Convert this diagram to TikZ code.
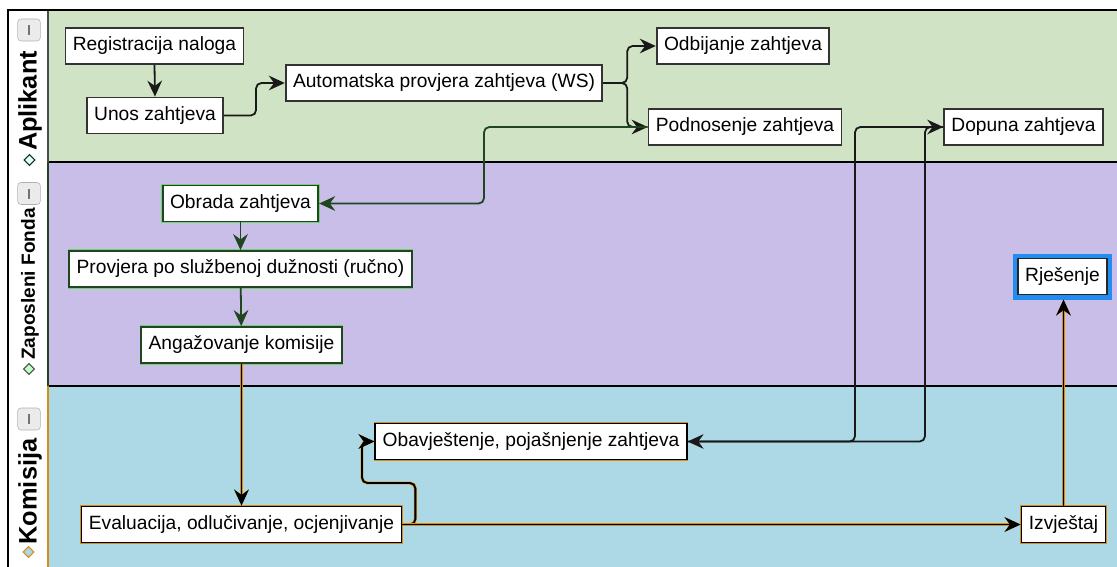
\documentclass[tikz,border=0pt]{standalone}
\usepackage{fontspec}
\setmainfont{Liberation Sans}
\usetikzlibrary{arrows.meta,shapes.geometric}
\definecolor{aplgreen}{RGB}{208,227,196}
\definecolor{fondpurple}{RGB}{200,190,232}
\definecolor{komblue}{RGB}{173,216,230}
\definecolor{fondedge}{RGB}{32,70,32}
\definecolor{fondglow}{RGB}{120,205,120}
\definecolor{komglow}{RGB}{214,140,24}
\definecolor{rjesblue}{RGB}{34,140,240}
\begin{document}
\begin{tikzpicture}[x=0.75pt,y=-0.75pt,
    every node/.style={font=\fontsize{14.4}{17}\selectfont},
    box/.style={draw,fill=white,line width=1.35pt,inner xsep=5.5pt,minimum height=27pt},
    apbox/.style={box,draw=black!80},
    fondbox/.style={box,draw=fondedge,preaction={draw=fondglow,line width=2.3pt}},
    kombox/.style={box,draw=black,preaction={draw=komglow,line width=2.3pt}},
    rjesbox/.style={box,draw=black!85,outer sep=3.75pt,preaction={draw=rjesblue,line width=7.5pt}},
    flow/.style={-{Stealth[length=12pt,width=11pt,inset=4pt]},line width=1.35pt,rounded corners=4pt},
    apline/.style={flow,draw=black!90},
    fondline/.style={flow,draw=fondedge},
    komline/.style={flow,draw=black,preaction={draw=komglow,line width=2.2pt}},
    lanename/.style={rotate=90,font=\bfseries\fontsize{19}{22}\selectfont},
    lanebtn/.style={draw=black!30,fill=black!8,rounded corners=2.5pt,minimum width=17pt,minimum height=16.5pt,inner sep=0pt},
    lanemark/.style={diamond,line width=0.8pt,minimum size=8.5pt,inner sep=0pt}]
      \clip (0,0) rectangle (1117,567);
      % lanes
      \fill[white] (0,0) rectangle (1117,567);
      \fill[aplgreen] (48,10) rectangle (1120,162);
      \fill[fondpurple] (48,162) rectangle (1120,386);
      \fill[komblue] (48,386) rectangle (1120,570);
      \draw[line width=0.9pt] (48,162) -- (1120,162);
      \draw[line width=0.9pt] (48,386) -- (1120,386);
      \draw[line width=0.9pt,black!70] (48,10) -- (48,162);
      \draw[line width=0.9pt,fondedge] (48,162) -- (48,386);
      \draw[line width=0.9pt,komglow] (48,386) -- (48,570);
      \draw[line width=1.1pt] (8,570) -- (8,10) -- (1120,10);
      % lane headers
      \node[lanebtn] (aplbtn) at (29,30) {\color{black!55}\rule{1.3pt}{7.5pt}};
      \node[lanename] (aplname) at (30,101) {Aplikant};
      \node[lanemark,draw=black!65!teal,fill=green!8] (aplmark) at (29.5,160) {};
      \node[lanebtn] (fondbtn) at (29,193.5) {\color{black!55}\rule{1.3pt}{7.5pt}};
      \node[lanename,font=\bfseries\fontsize{14.3}{17}\selectfont] (fondname) at (30,284) {Zaposleni Fonda};
      \node[lanemark,draw=black!70,fill=green!25] (fondmark) at (29,369) {};
      \node[lanebtn] (kombtn) at (29,419) {\color{black!55}\rule{1.3pt}{7.5pt}};
      \node[lanename] (komname) at (30,491.5) {Komisija};
      \node[lanemark,draw=komglow,fill=komblue] (kommark) at (28.5,552) {};
      % Aplikant
      \node[apbox] (reg) at (154.5,46) {Registracija naloga};
      \node[apbox] (unos) at (155,115.5) {Unos zahtjeva};
      \node[apbox] (auto) at (444,83) {Automatska provjera zahtjeva (WS)};
      \node[apbox] (odb) at (743,46) {Odbijanje zahtjeva};
      \node[apbox] (pod) at (745,127) {Podnosenje zahtjeva};
      \node[apbox] (dop) at (1023.5,127) {Dopuna zahtjeva};
      % Zaposleni Fonda
      \node[fondbox] (obr) at (240.5,203.5) {Obrada zahtjeva};
      \node[fondbox] (prov) at (240.5,269) {Provjera po službenoj dužnosti (ručno)};
      \node[fondbox] (ang) at (241.5,345) {Angažovanje komisije};
      \node[rjesbox] (rjes) at (1062.5,276.5) {Rješenje};
      % Komisija
      \node[kombox] (obav) at (531,441.5) {Obavještenje, pojašnjenje zahtjeva};
      \node[kombox] (eval) at (241.5,524.5) {Evaluacija, odlučivanje, ocjenjivanje};
      \node[kombox] (izv) at (1063.5,524.5) {Izvještaj};
      % tokovi
      \draw[apline] (reg.south) -- (unos.north);
      \draw[apline] (unos.east) -- ++(32,0) |- (auto.west);
      \draw[apline] (auto.east) -- ++(24,0) |- (odb.west);
      \draw[apline] (auto.east) -- ++(24,0) |- (pod.west);
      \draw[fondline] (pod.west) -| (484,203.5) -- (obr.east);
      \draw[fondline] (obr) -- (prov);
      \draw[fondline] (prov) -- (ang);
      \draw[komline] (ang) -- (eval);
      \draw[komline] (eval.east) -- ++(13,0) |- (362,483) |- (obav.west);
      \draw[komline] (eval) -- (izv);
      \draw[komline] (izv.north) -- (izv.north |- rjes.south);
      \draw[apline] (obav.east) -| (855,127) -- (dop.west);
      \draw[apline] (dop.west) -| (925,441.5) -- (obav.east);
\end{tikzpicture}
\end{document}
